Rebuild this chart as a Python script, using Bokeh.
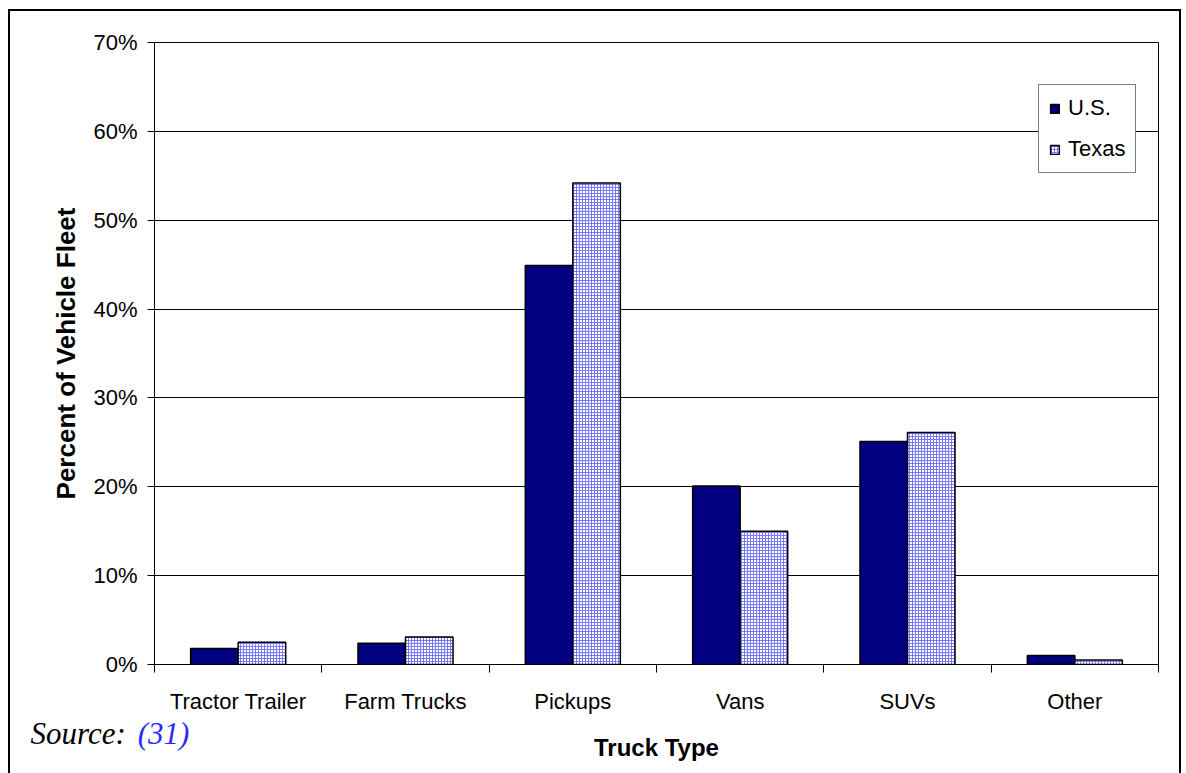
from bokeh.plotting import figure
from bokeh.models import (ColumnDataSource, Range1d, FixedTicker, PrintfTickFormatter,
                          Legend, LegendItem)
from bokeh.core.properties import value
from bokeh.embed import file_html
from bokeh.resources import INLINE

# Share of truck fleet by truck type (percent)
categories = ["Tractor Trailer", "Farm Trucks", "Pickups", "Vans", "SUVs", "Other"]
us_values = [1.8, 2.4, 44.9, 20.1, 25.1, 1.0]
texas_values = [2.5, 3.1, 54.2, 15.0, 26.1, 0.5]
y_ticks = [0, 10, 20, 30, 40, 50, 60, 70]
source_parts = ["Source:", "(31)"]

FONT = "Liberation Sans"
BAR_W = 0.284
OFFSET = 0.142

centers = [i + 0.5 for i in range(len(categories))]
src = ColumnDataSource(dict(
    center=centers,
    us_x=[c - OFFSET for c in centers],
    tx_x=[c + OFFSET for c in centers],
    us=us_values,
    tx=texas_values,
))

p = figure(
    width=1173, height=766,
    x_range=Range1d(0, len(categories)), y_range=Range1d(0, 70),
    output_backend="svg", toolbar_location=None,
    min_border_left=144, min_border_right=25, min_border_top=31, min_border_bottom=113,
)
p.styles = {"border": "2px solid black", "margin-left": "8px", "margin-top": "9px"}

p.outline_line_color = "black"
p.outline_line_width = 1
p.background_fill_color = "white"
p.border_fill_color = "white"

# bars
us_r = p.vbar(x="us_x", top="us", width=BAR_W, source=src,
              fill_color="#000080", line_color="black", line_width=1.5)
tx_r = p.vbar(x="tx_x", top="tx", width=BAR_W, source=src,
              fill_color="white", hatch_pattern="+", hatch_color="#7a7aff",
              hatch_scale=3, hatch_weight=1, line_color="black", line_width=1.5)

# y axis
p.yaxis.ticker = FixedTicker(ticks=y_ticks)
p.yaxis.formatter = PrintfTickFormatter(format="%d%%")
p.yaxis.axis_label = "Percent of Vehicle Fleet"
p.yaxis.axis_label_text_font = FONT
p.yaxis.axis_label_text_font_style = "bold"
p.yaxis.axis_label_text_font_size = "26px"
p.yaxis.axis_label_text_color = "black"
p.yaxis.axis_label_standoff = 9
p.yaxis.major_label_text_font = FONT
p.yaxis.major_label_text_font_size = "22px"
p.yaxis.major_label_text_color = "black"
p.yaxis.major_label_standoff = 10
p.yaxis.major_tick_out = 7
p.yaxis.major_tick_in = 0
p.yaxis.minor_tick_line_color = None
p.yaxis.axis_line_color = "black"
p.yaxis.major_tick_line_color = "black"

# x axis: labels at category centres, ticks on category boundaries
p.xaxis.ticker = FixedTicker(ticks=centers, minor_ticks=list(range(len(categories) + 1)))
p.xaxis.major_label_overrides = {c: name for c, name in zip(centers, categories)}
p.xaxis.major_tick_line_color = None
p.xaxis.major_tick_out = 8
p.xaxis.major_tick_in = 0
p.xaxis.minor_tick_line_color = "black"
p.xaxis.minor_tick_out = 8
p.xaxis.minor_tick_in = 0
p.xaxis.axis_line_color = "black"
p.xaxis.major_label_text_font = FONT
p.xaxis.major_label_text_font_size = "22px"
p.xaxis.major_label_text_color = "black"
p.xaxis.major_label_standoff = 16
p.xaxis.axis_label = "Truck Type"
p.xaxis.axis_label_text_font = FONT
p.xaxis.axis_label_text_font_style = "bold"
p.xaxis.axis_label_text_font_size = "24px"
p.xaxis.axis_label_text_color = "black"
p.xaxis.axis_label_standoff = 17

# grid
p.xgrid.grid_line_color = None
p.ygrid.ticker = FixedTicker(ticks=y_ticks)
p.ygrid.grid_line_color = "black"
p.ygrid.grid_line_width = 1

# legend
legend = Legend(
    items=[LegendItem(label="U.S.", renderers=[us_r]),
           LegendItem(label="Texas", renderers=[tx_r])],
    location=(884, 491),
    label_text_font=FONT, label_text_font_size="22px", label_text_color="black",
    glyph_width=11, glyph_height=11, label_height=22,
    spacing=15, padding=10, label_standoff=8,
    border_line_color="black", border_line_width=1,
    background_fill_alpha=1.0,
)
p.add_layout(legend, "center")

# source note below the plot area, drawn on the overlay level so it is not clipped
note = ColumnDataSource(dict(
    x=[-0.741, -0.10], y=[-7.75, -7.75],
    text=source_parts, color=["black", "#2b2bff"],
))
p.text(x="x", y="y", text="text", source=note, text_color="color",
       text_font=value("Liberation Serif"), text_font_style="italic",
       text_font_size="31px", text_baseline="middle", level="overlay")

html = file_html(p, INLINE)
html = html.replace("<head>", "<head><style>html,body{margin:0;padding:0;}</style>", 1)
open("out.html", "w").write(html)
